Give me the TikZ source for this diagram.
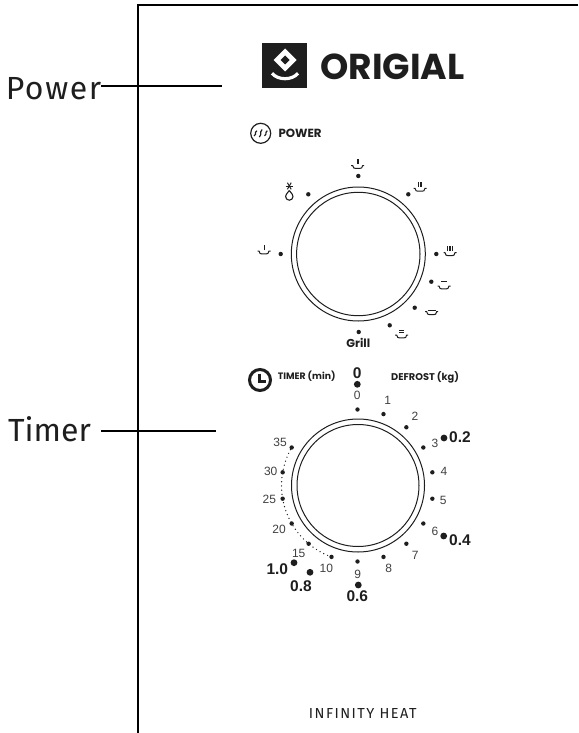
\documentclass[tikz,border=0pt]{standalone}
\usepackage{fontspec}
\newfontfamily\labelfont{Fira Sans}
\newfontfamily\brandfont{Poppins}
\newfontfamily\numfont{Liberation Sans}
\newcommand{\fs}[1]{\fontsize{#1}{#1}\selectfont}
\definecolor{panelink}{HTML}{1E1E1E}
\tikzset{
	callout/.style={font=\labelfont\fs{32}, text=panelink, inner sep=0pt},
	frameline/.style={line width=2.2pt, black},
	leader/.style={line width=1.7pt, black},
	heading/.style={text=panelink, inner sep=0pt, anchor=west},
	timenum/.style={font=\numfont\fs{12}, text=panelink!85, inner sep=0pt},
	weightnum/.style={font=\numfont\bfseries\fs{15.5}, text=panelink, inner sep=0pt},
	dialring/.style={line width=1pt, panelink},
	icon/.style={line width=1pt, panelink},
	panicon/.pic={
		\draw[icon] (-6.5,0) -- (-5,0) .. controls (-4,2.8) .. (-2.5,2.8) -- (2.5,2.8) .. controls (4,2.8) .. (5,0) -- (6.5,0);
	}
}
\begin{document}
\begin{tikzpicture}[x=1pt,y=-1pt]
	\useasboundingbox (0,0) rectangle (578,733);
	\pgfmathsetmacro{\cx}{358}
	\pgfmathsetmacro{\cy}{485.5}

	\draw[frameline] (578,5) -- (138,5) -- (138,733);

	\node (powerlabel) at (53.5,88.5) [callout] {\addfontfeatures{LetterSpace=5}Power};
	\node (timerlabel) at (49.5,429.5) [callout] {Timer};
	\coordinate (powerend) at (222,85.7);
	\coordinate (timerend) at (216,431.3);
	\draw[leader] (powerlabel.east |- powerend) -- (powerend);
	\draw[leader] ([xshift=10pt]timerlabel.east |- timerend) -- (timerend);

	% logo
	\fill[panelink] (261.7,43.3) rectangle (306.7,88.3);
	\fill[white] (285,48.5) -- (296.5,60) -- (285,71.5) -- (273.5,60) -- cycle;
	\fill[panelink] (285,55.5) -- (289.5,60) -- (285,64.5) -- (280.5,60) -- cycle;
	\draw[white, line width=3.2pt] (272,73.3) .. controls (278,80.5) and (292,80.5) .. (298,73.3);
	\node (brand) at (392.3,66.5) [font=\brandfont\bfseries\fs{36}, text=panelink, inner sep=0pt] {ORIGIAL};

	% power dial
	\node (powerhead) at (278.3,133.7) [heading, font=\brandfont\bfseries\fs{11.8}] {POWER};
	\draw[line width=1.2pt, panelink] (260.7,133.3) circle (10);
	\foreach \wx/\wh in {255.5/2.6, 260.7/3.8, 265.9/2.6}
		\draw[line width=1.2pt, panelink] (\wx+1.4,133.3-\wh) .. controls (\wx-1.8,133.3) and (\wx+1.8,133.3) .. (\wx-1.4,133.3+\wh);

	\draw[dialring] (358.3,254) circle (67);
	\draw[dialring] (358.3,254) circle (61.7);
	\foreach \dx/\dy in {358.3/176, 408.3/194.3, 436.3/254, 431.3/281.7, 414.7/307.7, 389.7/325.3, 358.7/332, 280.7/254, 308.3/194.3}
		\fill[panelink] (\dx,\dy) circle (2.2);
	\node (grill) at (358.3,343.3) [font=\brandfont\bfseries\fs{11.5}, text=panelink, inner sep=0pt] {Grill};

	% grill symbols with bars
	\foreach \px/\py/\n in {264/251/1, 357.7/165.5/2, 420/188.3/3, 450/252.7/4}{
		\pic at (\px,\py) {panicon};
		\foreach \k in {1,...,\n}
			\draw[icon, line width=0.9pt] ({\px+1.4*(\k-(\n+1)/2)},\py-1.5) -- ++(0,-5);
	}
	% grill symbols with short lines
	\foreach \px/\py in {444/286, 431.7/311.7, 401.7/335}
		\pic at (\px,\py) {panicon};
	\foreach \lx/\ly/\wd in {444/281.5/6, 431.7/310.7/8, 401.7/332/5, 401.7/330.3/5}
		\draw[icon] (\lx-\wd/2,\ly) -- ++(\wd,0);

	% defrost symbol
	\foreach \a in {0,60,120}
		\draw[icon] ({289.3-3.8*cos(\a)},{186-3.8*sin(\a)}) -- ({289.3+3.8*cos(\a)},{186+3.8*sin(\a)});
	\draw[line width=1.1pt, panelink] (289.3,190.5) .. controls (286.5,194) and (285.6,195) .. (285.6,196.5)
		arc (180:0:3.7) .. controls (293,195) and (292.1,194) .. (289.3,190.5);

	% timer dial
	\draw[line width=3pt, panelink] (260,380) circle (10.5);
	\draw[line width=2.3pt, panelink] (259.5,373.5) -- (259.5,381.5) -- (266,381.5);
	\node (timerhead) at (277.7,376.7) [heading, font=\brandfont\bfseries\fs{9.3}] {TIMER (min)};
	\node (defrosthead) at (391,377.5) [heading, font=\brandfont\bfseries\fs{9.8}] {DEFROST (kg)};

	\draw[dialring] (\cx,\cy) circle (66.5);
	\draw[dialring] (\cx,\cy) circle (61);
	\foreach \k in {0,...,15}
		\fill[panelink] ({\cx-0.5+76*sin(20*\k)},{\cy-76*cos(20*\k)}) circle (2.2);
	\draw[line width=1.4pt, panelink, line cap=round, dash pattern=on 0pt off 4.2pt, domain=200:300, samples=50, variable=\a]
		plot ({\cx-0.5+76*sin(\a)},{\cy-76*cos(\a)});

	\foreach \tx/\ty/\val in {357.3/395/0, 387.7/400.7/1, 415/416/2, 435/443.3/3, 444/471/4, 443.3/500.7/5, 435/531/6, 415.3/555/7, 388.7/568.3/8, 357.7/574/9, 326.3/568.7/10, 298.7/553.3/15, 279/529.3/20, 269.3/499/25, 270.7/471/30, 280/442.3/35}
		\node at (\tx,\ty) [timenum] {\val};

	\foreach \wx/\wy in {357.3/384.3, 444/438, 443.7/536, 358.3/585, 310/572.3, 294/562.7}
		\fill[panelink] (\wx,\wy) circle (3.4);
	\foreach \tx/\ty/\val in {357.3/372.7/0, 460/437.3/0.2, 460/540/0.4, 357.3/596/0.6, 301/585.7/0.8, 277.3/569/1.0}
		\node at (\tx,\ty) [weightnum] {\val};

	\node (model) at (362.8,713) [font=\labelfont\fs{14.5}, text=panelink, inner sep=0pt] {\addfontfeatures{LetterSpace=10}INFINITY HEAT};
\end{tikzpicture}
\end{document}
